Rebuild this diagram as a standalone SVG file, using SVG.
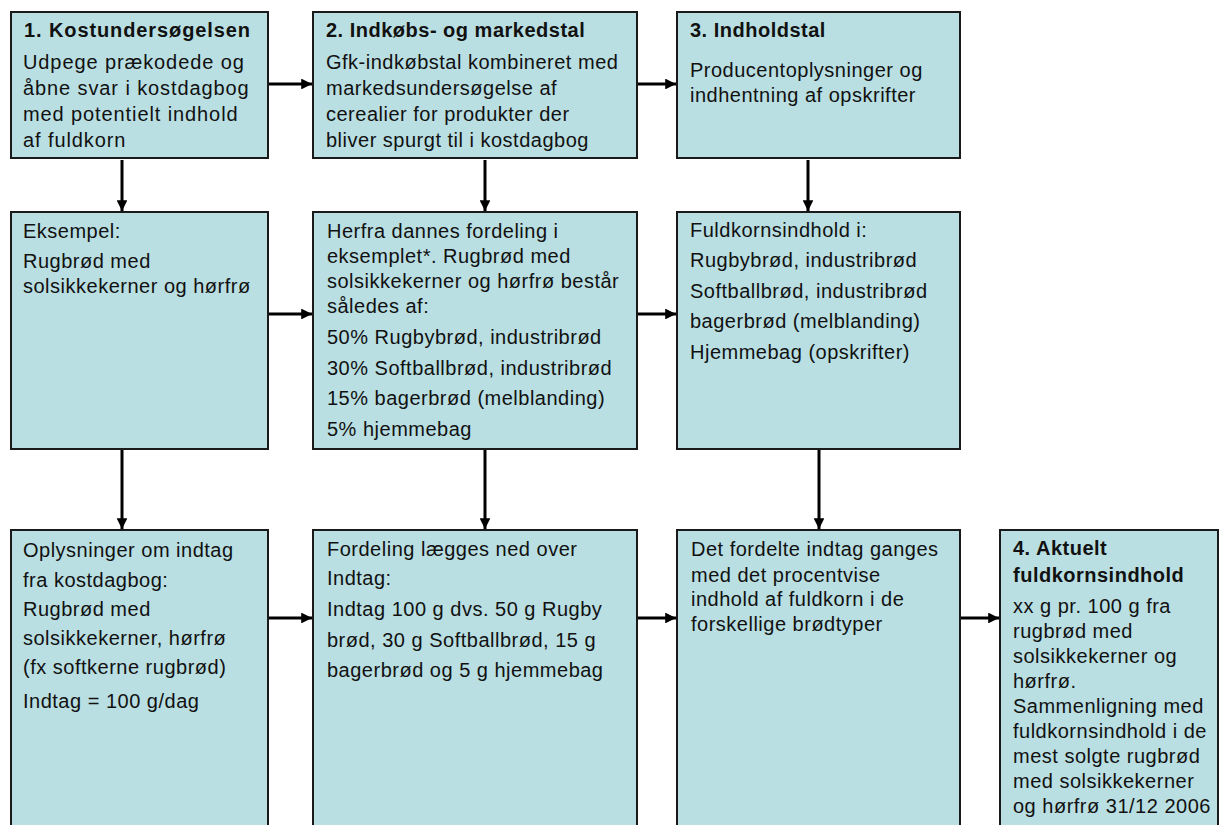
<svg xmlns="http://www.w3.org/2000/svg" width="1220" height="825" viewBox="0 0 1220 825">
<style>
.box{fill:#b9dfe2;stroke:#1a1a1a;stroke-width:2}
text{font-family:"Liberation Sans",Arial,sans-serif;font-size:20px;fill:#111;letter-spacing:0.5px}
.t{font-weight:bold}
.w{letter-spacing:0.9px}
.c{stroke:#000;stroke-width:3;fill:none}
</style>
<defs>
<marker id="ah" viewBox="0 0 10 10" refX="10" refY="5" markerWidth="3.6" markerHeight="3.6" orient="auto" markerUnits="strokeWidth">
<path d="M0,0 L10,5 L0,10 Z" fill="#000"/>
</marker>
</defs>
<rect width="1220" height="825" fill="#fff"/>
<g id="connectors">
<line class="c" x1="262" y1="84" x2="312" y2="84" marker-end="url(#ah)"/>
<line class="c" x1="637" y1="84" x2="676" y2="84" marker-end="url(#ah)"/>
<line class="c" x1="122" y1="160" x2="122" y2="211" marker-end="url(#ah)"/>
<line class="c" x1="485" y1="160" x2="485" y2="211" marker-end="url(#ah)"/>
<line class="c" x1="808" y1="160" x2="808" y2="211" marker-end="url(#ah)"/>
<line class="c" x1="262" y1="314" x2="312" y2="314" marker-end="url(#ah)"/>
<line class="c" x1="637" y1="314" x2="676" y2="314" marker-end="url(#ah)"/>
<line class="c" x1="122" y1="449" x2="122" y2="529" marker-end="url(#ah)"/>
<line class="c" x1="485" y1="449" x2="485" y2="529" marker-end="url(#ah)"/>
<line class="c" x1="819" y1="449" x2="819" y2="529" marker-end="url(#ah)"/>
<line class="c" x1="262" y1="618" x2="312" y2="618" marker-end="url(#ah)"/>
<line class="c" x1="637" y1="618" x2="676" y2="618" marker-end="url(#ah)"/>
<line class="c" x1="960" y1="618" x2="999" y2="618" marker-end="url(#ah)"/>
</g>
<g id="n1">
<rect class="box" x="11" y="12" width="257" height="146"/>
<text class="t w" x="24" y="37">1. Kostundersøgelsen</text>
<text class="w" x="23" y="69">Udpege prækodede og</text>
<text class="w" x="23" y="95">åbne svar i kostdagbog</text>
<text class="w" x="23" y="121">med potentielt indhold</text>
<text class="w" x="23" y="147">af fuldkorn</text>
</g>
<g id="n2">
<rect class="box" x="313" y="12" width="324" height="146"/>
<text class="t" x="326" y="37">2. Indkøbs- og markedstal</text>
<text x="326" y="69">Gfk-indkøbstal kombineret med</text>
<text x="326" y="95">markedsundersøgelse af</text>
<text x="326" y="121">cerealier for produkter der</text>
<text x="326" y="147">bliver spurgt til i kostdagbog</text>
</g>
<g id="n3">
<rect class="box" x="677" y="12" width="283" height="146"/>
<text class="t" x="690" y="37">3. Indholdstal</text>
<text x="690" y="77">Producentoplysninger og</text>
<text x="690" y="102">indhentning af opskrifter</text>
</g>
<g id="n4">
<rect class="box" x="11" y="212" width="257" height="237"/>
<text x="23" y="238">Eksempel:</text>
<text x="23" y="268">Rugbrød med</text>
<text x="23" y="293">solsikkekerner og hørfrø</text>
</g>
<g id="n5">
<rect class="box" x="313" y="212" width="324" height="237"/>
<text x="327" y="238">Herfra dannes fordeling i</text>
<text x="327" y="263">eksemplet*. Rugbrød med</text>
<text x="327" y="288">solsikkekerner og hørfrø består</text>
<text x="327" y="313">således af:</text>
<text x="327" y="344">50% Rugbybrød, industribrød</text>
<text x="327" y="375">30% Softballbrød, industribrød</text>
<text x="327" y="405">15% bagerbrød (melblanding)</text>
<text x="327" y="436">5% hjemmebag</text>
</g>
<g id="n6">
<rect class="box" x="677" y="212" width="283" height="237"/>
<text x="690" y="237">Fuldkornsindhold i:</text>
<text x="690" y="267">Rugbybrød, industribrød</text>
<text x="690" y="298">Softballbrød, industribrød</text>
<text x="690" y="328">bagerbrød (melblanding)</text>
<text x="690" y="359">Hjemmebag (opskrifter)</text>
</g>
<g id="n7">
<rect class="box" x="11" y="530" width="257" height="310"/>
<text x="23" y="557">Oplysninger om indtag</text>
<text x="23" y="587">fra kostdagbog:</text>
<text x="23" y="616">Rugbrød med</text>
<text x="23" y="645">solsikkekerner, hørfrø</text>
<text x="23" y="674">(fx softkerne rugbrød)</text>
<text x="23" y="708">Indtag = 100 g/dag</text>
</g>
<g id="n8">
<rect class="box" x="313" y="530" width="324" height="310"/>
<text x="327" y="556">Fordeling lægges ned over</text>
<text x="327" y="585">Indtag:</text>
<text x="327" y="616">Indtag 100 g dvs. 50 g Rugby</text>
<text x="327" y="647">brød, 30 g Softballbrød, 15 g</text>
<text x="327" y="677">bagerbrød og 5 g hjemmebag</text>
</g>
<g id="n9">
<rect class="box" x="677" y="530" width="283" height="310"/>
<text x="691" y="556">Det fordelte indtag ganges</text>
<text x="691" y="582">med det procentvise</text>
<text x="691" y="606">indhold af fuldkorn i de</text>
<text x="691" y="631">forskellige brødtyper</text>
</g>
<g id="n10">
<rect class="box" x="1000" y="530" width="218" height="310"/>
<text class="t" x="1013" y="555">4. Aktuelt</text>
<text class="t" x="1013" y="582">fuldkornsindhold</text>
<text x="1013" y="613">xx g pr. 100 g fra</text>
<text x="1013" y="638">rugbrød med</text>
<text x="1013" y="663">solsikkekerner og</text>
<text x="1013" y="688">hørfrø.</text>
<text x="1013" y="713">Sammenligning med</text>
<text x="1013" y="738">fuldkornsindhold i de</text>
<text x="1013" y="763">mest solgte rugbrød</text>
<text x="1013" y="788">med solsikkekerner</text>
<text x="1013" y="813">og hørfrø 31/12 2006</text>
</g>
</svg>
